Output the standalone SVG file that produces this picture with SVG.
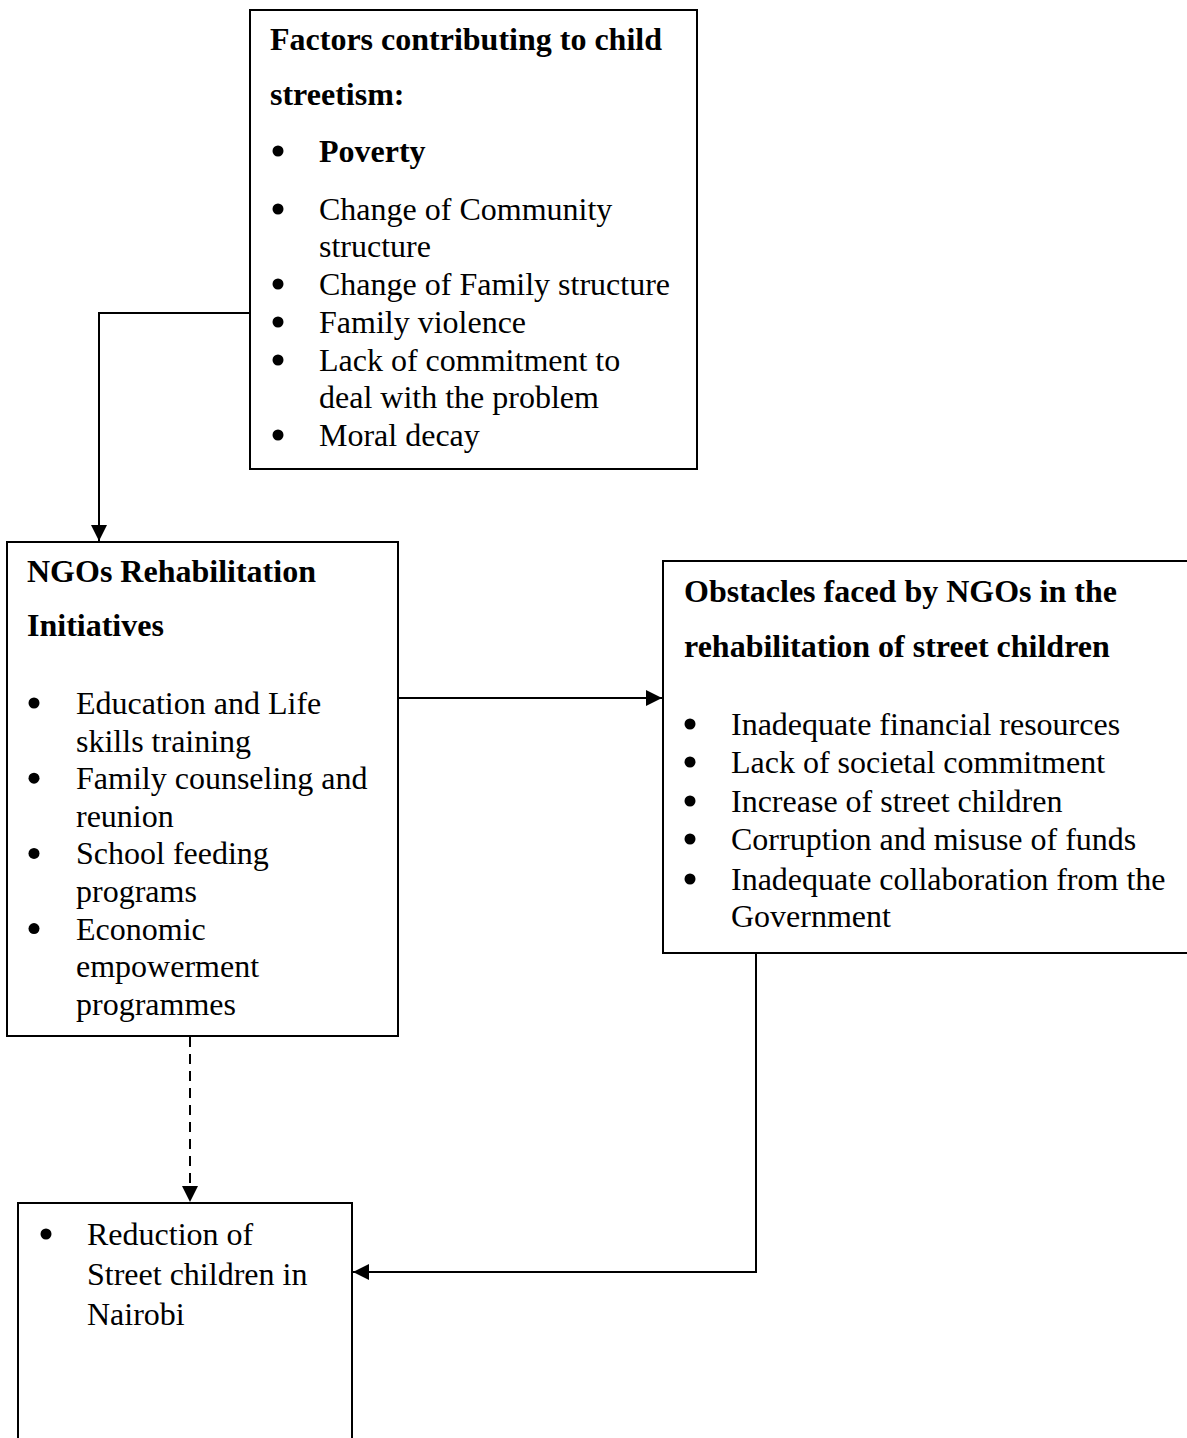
<svg xmlns="http://www.w3.org/2000/svg" width="1187" height="1438" viewBox="0 0 1187 1438">
<style>
  .box { fill: #ffffff; stroke: #000000; stroke-width: 2; }
  .t { font-family: "Liberation Serif", "Times New Roman", serif; font-size: 32px; fill: #000000; }
  .b { font-weight: bold; }
  .bul { fill: #000000; }
  .conn { fill: none; stroke: #000000; stroke-width: 2; }
  .dash { stroke-dasharray: 10 7; }
</style>
<defs>
  <marker id="arrow" markerUnits="userSpaceOnUse" markerWidth="17" markerHeight="17" refX="16" refY="8" orient="auto">
    <path d="M0,0 L16,8 L0,16 Z" fill="#000000"/>
  </marker>
</defs>
<rect width="1187" height="1438" fill="#ffffff"/>

<g id="connectors">
  <path class="conn" d="M250,313 L99,313 L99,541" marker-end="url(#arrow)"/>
  <path class="conn" d="M398,698 L662,698" marker-end="url(#arrow)"/>
  <path class="conn dash" d="M190,1037 L190,1202" marker-end="url(#arrow)"/>
  <path class="conn" d="M756,953 L756,1272 L353,1272" marker-end="url(#arrow)"/>
</g>

<g id="factors">
  <rect class="box" x="250" y="10" width="447" height="459"/>
  <text class="t b" x="270" y="50">Factors contributing to child</text>
  <text class="t b" x="270" y="105">streetism:</text>
  <circle class="bul" cx="278" cy="151" r="5.5"/>
  <text class="t b" x="319" y="162">Poverty</text>
  <circle class="bul" cx="278" cy="209" r="5.5"/>
  <text class="t" x="319" y="220">Change of Community</text>
  <text class="t" x="319" y="257">structure</text>
  <circle class="bul" cx="278" cy="284" r="5.5"/>
  <text class="t" x="319" y="295">Change of Family structure</text>
  <circle class="bul" cx="278" cy="322" r="5.5"/>
  <text class="t" x="319" y="333">Family violence</text>
  <circle class="bul" cx="278" cy="360" r="5.5"/>
  <text class="t" x="319" y="371">Lack of commitment to</text>
  <text class="t" x="319" y="408">deal with the problem</text>
  <circle class="bul" cx="278" cy="435" r="5.5"/>
  <text class="t" x="319" y="446">Moral decay</text>
</g>

<g id="initiatives">
  <rect class="box" x="7" y="542" width="391" height="494"/>
  <text class="t b" x="27" y="582">NGOs Rehabilitation</text>
  <text class="t b" x="27" y="636">Initiatives</text>
  <circle class="bul" cx="34" cy="703" r="5.5"/>
  <text class="t" x="76" y="714">Education and Life</text>
  <text class="t" x="76" y="751.6">skills training</text>
  <circle class="bul" cx="34" cy="778.2" r="5.5"/>
  <text class="t" x="76" y="789.2">Family counseling and</text>
  <text class="t" x="76" y="826.8">reunion</text>
  <circle class="bul" cx="34" cy="853.4" r="5.5"/>
  <text class="t" x="76" y="864.4">School feeding</text>
  <text class="t" x="76" y="902">programs</text>
  <circle class="bul" cx="34" cy="928.6" r="5.5"/>
  <text class="t" x="76" y="939.6">Economic</text>
  <text class="t" x="76" y="977.2">empowerment</text>
  <text class="t" x="76" y="1014.8">programmes</text>
</g>

<g id="obstacles">
  <rect class="box" x="663" y="561" width="540" height="392"/>
  <text class="t b" x="684" y="602">Obstacles faced by NGOs in the</text>
  <text class="t b" x="684" y="657">rehabilitation of street children</text>
  <circle class="bul" cx="690" cy="724" r="5.5"/>
  <text class="t" x="731" y="735">Inadequate financial resources</text>
  <circle class="bul" cx="690" cy="762" r="5.5"/>
  <text class="t" x="731" y="773">Lack of societal commitment</text>
  <circle class="bul" cx="690" cy="801" r="5.5"/>
  <text class="t" x="731" y="812">Increase of street children</text>
  <circle class="bul" cx="690" cy="839" r="5.5"/>
  <text class="t" x="731" y="850">Corruption and misuse of funds</text>
  <circle class="bul" cx="690" cy="879" r="5.5"/>
  <text class="t" x="731" y="890">Inadequate collaboration from the</text>
  <text class="t" x="731" y="927">Government</text>
</g>

<g id="reduction">
  <rect class="box" x="18" y="1203" width="334" height="250"/>
  <circle class="bul" cx="46" cy="1234" r="5.5"/>
  <text class="t" x="87" y="1245">Reduction of</text>
  <text class="t" x="87" y="1285">Street children in</text>
  <text class="t" x="87" y="1325">Nairobi</text>
</g>
</svg>
